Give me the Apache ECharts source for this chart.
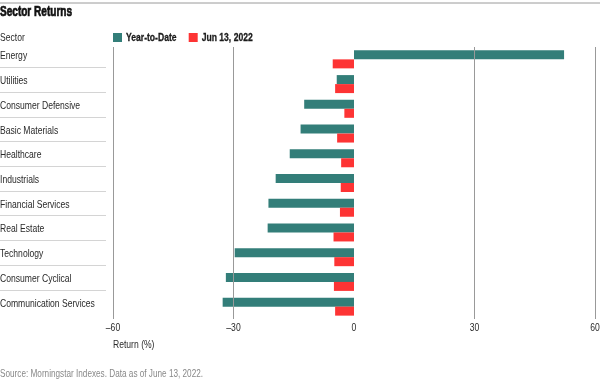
<!DOCTYPE html>
<html>
<head>
<meta charset="utf-8">
<script src="https://cdn.jsdelivr.net/npm/echarts@6/dist/echarts.min.js"></script>
<style>html,body{margin:0;padding:0;background:#fff}#c{width:600px;height:380px}</style>
</head>
<body>
<div id="c"></div>
<script>
const categories = ["Energy","Utilities","Consumer Defensive","Basic Materials","Healthcare","Industrials","Financial Services","Real Estate","Technology","Consumer Cyclical","Communication Services"];
const ytd = [52.3,-4.3,-12.4,-13.3,-16.0,-19.5,-21.3,-21.5,-29.7,-31.9,-32.7];
const jun13 = [-5.3,-4.7,-2.4,-4.2,-3.2,-3.3,-3.5,-5.1,-4.9,-5.0,-4.7];
const xTicks = [-60,-30,0,30,60];

// Emulate a condensed typeface (none installed): narrow every canvas text run horizontally.
(function(){
  const P = CanvasRenderingContext2D.prototype;
  const sx = f => (/bold|700/.test(f) && /15px/.test(f)) ? 0.67 : 0.78;
  const mt = P.measureText, ft = P.fillText, st = P.strokeText;
  P.measureText = function(t){
    const m = mt.call(this, t), s = sx(this.font);
    return {width:m.width*s,
      actualBoundingBoxAscent:m.actualBoundingBoxAscent, actualBoundingBoxDescent:m.actualBoundingBoxDescent,
      actualBoundingBoxLeft:m.actualBoundingBoxLeft*s, actualBoundingBoxRight:m.actualBoundingBoxRight*s,
      fontBoundingBoxAscent:m.fontBoundingBoxAscent, fontBoundingBoxDescent:m.fontBoundingBoxDescent};
  };
  P.fillText = function(t,x,y){ const s=sx(this.font); this.save(); this.translate(x,y); this.scale(s,1); ft.call(this,t,0,0); this.restore(); };
  P.strokeText = function(t,x,y){ const s=sx(this.font); this.save(); this.translate(x,y); this.scale(s,1); st.call(this,t,0,0); this.restore(); };
})();

const FONT = "'Liberation Sans',Arial,sans-serif";
const chart = echarts.init(document.getElementById('c'), null, {renderer:'canvas'});
chart.setOption({
  animation:false,
  textStyle:{fontFamily:FONT},
  graphic:[{type:'line',shape:{x1:0,y1:3,x2:600,y2:3},style:{stroke:'#9a9a9a',lineWidth:1}}],
  title:[
    {text:'Sector Returns',left:-5,top:2,textStyle:{fontFamily:FONT,fontSize:15,fontWeight:'bold',color:'#111',textBorderColor:'#111',textBorderWidth:0.7}},
    {text:'Sector',left:-5,top:29,textStyle:{fontFamily:FONT,fontSize:11,fontWeight:'normal',color:'#2a2a2a'}},
    {text:'Return (%)',left:108,top:336,textStyle:{fontFamily:FONT,fontSize:11,fontWeight:'normal',color:'#2a2a2a'}},
    {text:'Source: Morningstar Indexes. Data as of June 13, 2022.',left:-5,top:365,textStyle:{fontFamily:FONT,fontSize:10.5,fontWeight:'normal',color:'#888'}}
  ],
  legend:{left:108,top:28,itemWidth:9,itemHeight:9,itemGap:12,icon:'rect',
    textStyle:{fontFamily:FONT,fontSize:11,fontWeight:'bold',color:'#1a1a1a',padding:[0,0,0,-1],textBorderColor:'#1a1a1a',textBorderWidth:0.3},
    data:['Year-to-Date','Jun 13, 2022']},
  grid:[
    {left:113,right:5,top:47,height:272,containLabel:false,outerBoundsMode:'none'},
    {left:0,width:106,top:42.6,height:272,containLabel:false,outerBoundsMode:'none'}
  ],
  xAxis:[
    {type:'value',gridIndex:0,min:xTicks[0],max:xTicks[xTicks.length-1],interval:30,z:10,
     axisLine:{show:false},axisTick:{show:false},
     axisLabel:{margin:5,fontSize:11,color:'#2a2a2a',fontFamily:FONT,
       formatter:v=>v<0?'\u2013'+Math.abs(v):String(v)},
     splitLine:{show:true,lineStyle:{color:['#999','#999','rgba(0,0,0,0)','#999','#999'],width:1}}},
    {type:'value',gridIndex:1,show:false,min:0,max:1}
  ],
  yAxis:[
    {type:'category',gridIndex:0,data:categories,inverse:true,
     axisLine:{show:false},axisTick:{show:false},splitLine:{show:false},
     axisLabel:{margin:113,align:'left',verticalAlign:'bottom',lineHeight:6,fontSize:11,color:'#2a2a2a',fontFamily:FONT}},
    {type:'category',gridIndex:1,data:categories,inverse:true,
     axisLine:{show:false},axisTick:{show:false},axisLabel:{show:false},
     splitLine:{show:true,showMinLine:false,showMaxLine:false,lineStyle:{color:'#d4d4d4',width:1}}}
  ],
  series:[
    {name:'Year-to-Date',type:'bar',xAxisIndex:0,yAxisIndex:0,data:ytd,barWidth:9,barGap:'0%',
     itemStyle:{color:'#337e79'}},
    {name:'Jun 13, 2022',type:'bar',xAxisIndex:0,yAxisIndex:0,data:jun13,barWidth:9,barGap:'0%',
     itemStyle:{color:'#fd3434'}}
  ]
});
</script>
</body>
</html>
